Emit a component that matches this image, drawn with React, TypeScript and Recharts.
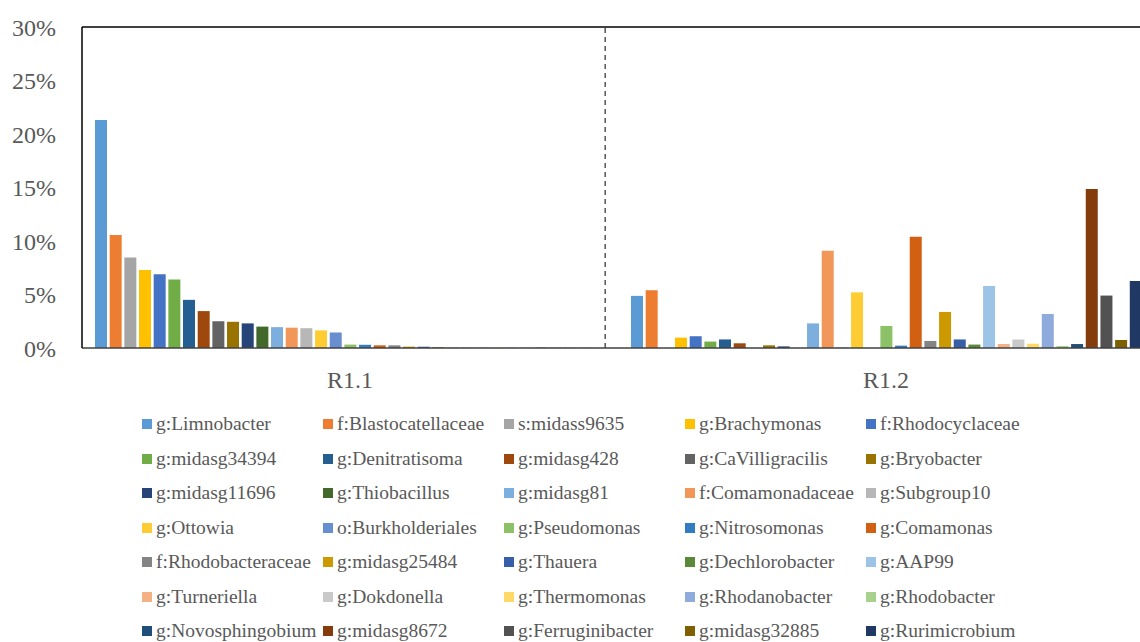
import { BarChart, Bar, XAxis, YAxis, Legend, ReferenceLine } from 'recharts';

// two reactor samples, 35 taxa each (relative abundance, %)
const CATEGORIES = ['R1.1', 'R1.2'];

const TAXA = [
  'g:Limnobacter', 'f:Blastocatellaceae', 's:midass9635', 'g:Brachymonas', 'f:Rhodocyclaceae',
  'g:midasg34394', 'g:Denitratisoma', 'g:midasg428', 'g:CaVilligracilis', 'g:Bryobacter',
  'g:midasg11696', 'g:Thiobacillus', 'g:midasg81', 'f:Comamonadaceae', 'g:Subgroup10',
  'g:Ottowia', 'o:Burkholderiales', 'g:Pseudomonas', 'g:Nitrosomonas', 'g:Comamonas',
  'f:Rhodobacteraceae', 'g:midasg25484', 'g:Thauera', 'g:Dechlorobacter', 'g:AAP99',
  'g:Turneriella', 'g:Dokdonella', 'g:Thermomonas', 'g:Rhodanobacter', 'g:Rhodobacter',
  'g:Novosphingobium', 'g:midasg8672', 'g:Ferruginibacter', 'g:midasg32885', 'g:Rurimicrobium',
];

const R1_1 = [
  21.3, 10.55, 8.45, 7.3, 6.9, 6.4, 4.5, 3.45, 2.5, 2.45,
  2.3, 2.0, 1.95, 1.9, 1.85, 1.65, 1.45, 0.32, 0.3, 0.25,
  0.25, 0.13, 0.12, 0.07, 0.06, 0.05, 0.04, 0.04, 0.03, 0.03,
  0.03, 0.02, 0.02, 0.02, 0.01,
];

const R1_2 = [
  4.87, 5.4, 0, 0.97, 1.1, 0.6, 0.8, 0.44, 0, 0.25,
  0.15, 0, 2.3, 9.08, 0.05, 5.2, 0, 2.06, 0.22, 10.4,
  0.66, 3.37, 0.8, 0.32, 5.8, 0.37, 0.8, 0.4, 3.18, 0.19,
  0.37, 14.85, 4.9, 0.75, 6.27,
];

const COLORS = [
  '#5B9BD5', '#ED7D31', '#A5A5A5', '#FFC000', '#4472C4',
  '#70AD47', '#255E91', '#9E480E', '#636363', '#997300',
  '#264478', '#43682B', '#7CAFDD', '#F1975A', '#B7B7B7',
  '#FFCD33', '#698ED0', '#8CC168', '#327DC2', '#D26012',
  '#848484', '#CC9A00', '#365EA9', '#5A8A39', '#9DC3E6',
  '#F4B183', '#C9C9C9', '#FFD966', '#8FAADC', '#A9D18E',
  '#1F4E79', '#843C0C', '#525252', '#7F6000', '#203864',
];

const Y_TICKS = [0, 0.05, 0.1, 0.15, 0.2, 0.25, 0.3];

// where the dashed divider sits, as a fraction of the plot width
const DIVIDER_AT = 0.488;

const DATA = CATEGORIES.map((name, ci) => {
  const vals = ci === 0 ? R1_1 : R1_2;
  const row: Record<string, string | number> = { name };
  TAXA.forEach((t, i) => {
    row[t] = vals[i] / 100;
  });
  return row;
});

const FONT = 'Liberation Serif, DejaVu Serif, serif';
const TEXT = '#595959';

const LegendGrid = ({ payload }: { payload?: Array<{ value?: string; color?: string }> }) => {
  const items = [...(payload || [])].sort(
    (a, b) => TAXA.indexOf(String(a.value)) - TAXA.indexOf(String(b.value)),
  );
  return (
    <div style={{ display: 'grid', gridTemplateColumns: 'repeat(5, 181px)' }}>
      {items.map((p) => (
        <div
          key={p.value}
          style={{
            display: 'flex',
            alignItems: 'center',
            height: 34.5,
            fontSize: 19.5,
            fontFamily: FONT,
            color: TEXT,
            whiteSpace: 'nowrap',
          }}
        >
          <span style={{ width: 10, height: 10, background: p.color, marginRight: 4, flex: 'none' }} />
          {p.value}
        </div>
      ))}
    </div>
  );
};

export default function App() {
  return (
    <div style={{ position: 'absolute', left: 0, top: 0, width: 1140, height: 642, overflow: 'hidden', background: '#fff', fontFamily: FONT }}>
      <BarChart
        width={1200}
        height={642}
        data={DATA}
        margin={{ top: 27, right: 46, left: 12, bottom: 264 }}
        barSize={12}
        barGap={2.67}
        style={{ fontFamily: FONT }}
      >
        <XAxis
          dataKey="name"
          axisLine={{ stroke: '#404040', strokeWidth: 1.5 }}
          tickLine={false}
          tickSize={0}
          tickMargin={23}
          tick={{ fill: TEXT, fontSize: 24, fontFamily: FONT }}
        />
        <XAxis xAxisId="sep" type="number" domain={[0, 1]} hide />
        <YAxis
          width={70}
          domain={[0, 0.3]}
          ticks={Y_TICKS}
          interval={0}
          axisLine={{ stroke: '#000', strokeWidth: 1.5 }}
          tickLine={false}
          tickSize={0}
          tickMargin={26}
          tick={{ fill: TEXT, fontSize: 24, fontFamily: FONT }}
          tickFormatter={(v: number) => `${Math.round(v * 100)}%`}
        />
        <ReferenceLine y={0.3} stroke="#000" strokeWidth={1.5} />
        <ReferenceLine xAxisId="sep" x={DIVIDER_AT} stroke="#000" strokeDasharray="5 4" />
        {TAXA.map((t, i) => (
          <Bar key={t} dataKey={t} fill={COLORS[i]} isAnimationActive={false} />
        ))}
        <Legend
          verticalAlign="middle"
          align="center"
          content={<LegendGrid />}
          wrapperStyle={{ position: 'absolute', left: 142, top: 407, width: 905, height: 242 }}
        />
      </BarChart>
    </div>
  );
}
